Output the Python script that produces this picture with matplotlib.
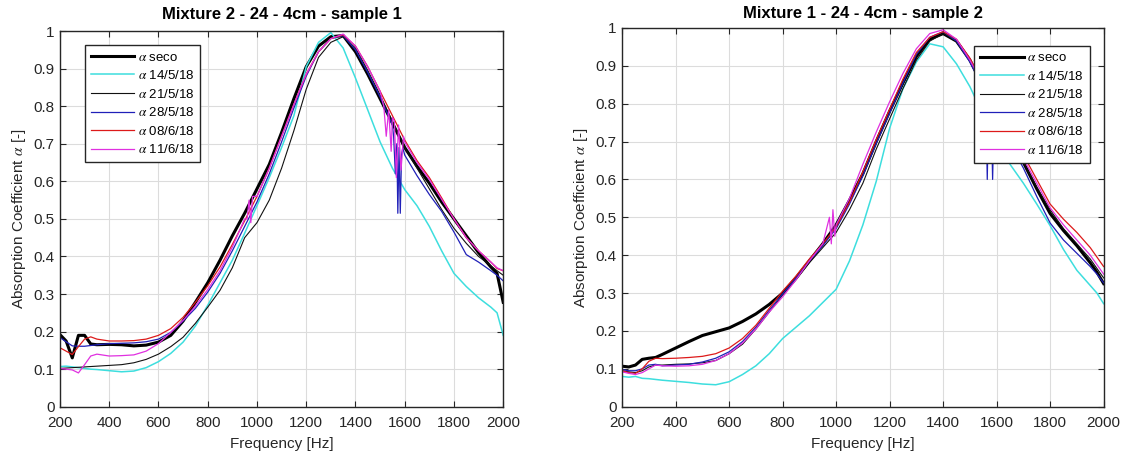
import matplotlib.pyplot as plt
import numpy as np

plt.rcParams['font.family'] = ['Liberation Sans', 'DejaVu Sans']
plt.rcParams['mathtext.fontset'] = 'stix'

# frequency grid [Hz] shared by all curves
freq = [200, 225, 250, 275, 300, 325, 350, 400, 450, 500, 550, 600, 650, 700, 750,
        800, 850, 900, 950, 1000, 1050, 1100, 1150, 1200, 1250, 1300, 1350, 1400,
        1450, 1500, 1550, 1600, 1650, 1700, 1750, 1800, 1850, 1900, 1950, 1975, 2000]

names = [r'$\alpha$ seco', r'$\alpha$ 14/5/18', r'$\alpha$ 21/5/18',
         r'$\alpha$ 28/5/18', r'$\alpha$ 08/6/18', r'$\alpha$ 11/6/18']
colors = ['#000000', '#3ddede', '#111111', '#2020b8', '#dd1a1a', '#e030e0']
widths = [2.2, 1.1, 0.8, 0.9, 0.9, 0.9]

titles = ['Mixture 2 - 24 - 4cm - sample 1', 'Mixture 1 - 24 - 4cm - sample 2']
xticks = [200, 400, 600, 800, 1000, 1200, 1400, 1600, 1800, 2000]
yticks = [0, 0.1, 0.2, 0.3, 0.4, 0.5, 0.6, 0.7, 0.8, 0.9, 1]
ytick_labels = ['0', '0.1', '0.2', '0.3', '0.4', '0.5', '0.6', '0.7', '0.8', '0.9', '1']

# ---- left panel: Mixture 2, sample 1
l_seco = [0.192, 0.175, 0.130, 0.190, 0.190, 0.167, 0.165, 0.166, 0.165, 0.162, 0.164,
          0.172, 0.190, 0.228, 0.278, 0.330, 0.390, 0.455, 0.515, 0.580, 0.645, 0.730,
          0.820, 0.905, 0.960, 0.985, 0.988, 0.945, 0.885, 0.820, 0.755, 0.690, 0.640,
          0.595, 0.545, 0.500, 0.455, 0.410, 0.372, 0.355, 0.278]
l_1405 = [0.107, 0.108, 0.106, 0.104, 0.102, 0.100, 0.099, 0.096, 0.093, 0.095, 0.104,
          0.120, 0.142, 0.172, 0.215, 0.270, 0.330, 0.390, 0.462, 0.535, 0.610, 0.690,
          0.775, 0.905, 0.970, 0.996, 0.955, 0.875, 0.790, 0.705, 0.635, 0.578, 0.535,
          0.480, 0.415, 0.355, 0.320, 0.290, 0.265, 0.250, 0.190]
l_2105 = [0.102, 0.103, 0.104, 0.105, 0.106, 0.107, 0.108, 0.110, 0.112, 0.117, 0.126,
          0.140, 0.160, 0.185, 0.222, 0.265, 0.310, 0.370, 0.450, 0.490, 0.550, 0.635,
          0.735, 0.845, 0.930, 0.970, 0.985, 0.955, 0.895, 0.830, 0.760, 0.690, 0.635,
          0.580, 0.525, 0.475, 0.435, 0.400, 0.375, 0.362, 0.350]
l_2805 = [0.184, 0.173, 0.162, 0.161, 0.161, 0.163, 0.165, 0.168, 0.169, 0.170, 0.173,
          0.180, 0.198, 0.228, 0.262, 0.305, 0.355, 0.415, 0.480, 0.545, 0.620, 0.705,
          0.795, 0.880, 0.945, 0.980, 0.988, 0.950, 0.890, 0.825, 0.750, 0.670, 0.615,
          0.565, 0.520, 0.465, 0.405, 0.385, 0.362, 0.350, 0.335]
l_0806 = [0.157, 0.148, 0.139, 0.160, 0.180, 0.186, 0.180, 0.175, 0.175, 0.176, 0.180,
          0.190, 0.208, 0.238, 0.278, 0.322, 0.372, 0.432, 0.495, 0.560, 0.635, 0.720,
          0.805, 0.885, 0.945, 0.980, 0.990, 0.960, 0.905, 0.840, 0.775, 0.710, 0.655,
          0.610, 0.556, 0.500, 0.450, 0.415, 0.385, 0.368, 0.362]
l_1106 = [0.102, 0.100, 0.098, 0.090, 0.112, 0.135, 0.140, 0.135, 0.136, 0.138, 0.148,
          0.168, 0.198, 0.230, 0.268, 0.312, 0.362, 0.425, 0.500, 0.560, 0.635, 0.720,
          0.805, 0.885, 0.945, 0.980, 0.992, 0.960, 0.905, 0.840, 0.770, 0.705, 0.650,
          0.605, 0.552, 0.500, 0.450, 0.415, 0.385, 0.370, 0.362]
# noisy dips seen around 1550-1600 Hz and 950-1000 Hz
l_2805_spk_f = [1555, 1562, 1568, 1572, 1577, 1582, 1587, 1592]
l_2805_spk_v = [0.72, 0.62, 0.70, 0.515, 0.69, 0.515, 0.67, 0.69]
l_1106_spk_f = [1515, 1525, 1535, 1545, 1558, 1566, 1575, 1585, 1595]
l_1106_spk_v = [0.80, 0.72, 0.79, 0.68, 0.76, 0.61, 0.75, 0.63, 0.72]
l_1106_spk2_f = [960, 968, 975, 982]
l_1106_spk2_v = [0.50, 0.55, 0.49, 0.56]

# ---- right panel: Mixture 1, sample 2
r_seco = [0.107, 0.105, 0.110, 0.125, 0.128, 0.130, 0.138, 0.155, 0.172, 0.188, 0.198,
          0.208, 0.225, 0.245, 0.270, 0.300, 0.340, 0.385, 0.430, 0.480, 0.545, 0.615,
          0.700, 0.780, 0.855, 0.925, 0.970, 0.985, 0.965, 0.915, 0.845, 0.770, 0.700,
          0.645, 0.575, 0.510, 0.465, 0.425, 0.380, 0.355, 0.325]
r_1405 = [0.080, 0.078, 0.080, 0.075, 0.074, 0.072, 0.070, 0.067, 0.064, 0.060, 0.058,
          0.066, 0.085, 0.108, 0.140, 0.180, 0.210, 0.240, 0.275, 0.310, 0.385, 0.480,
          0.595, 0.735, 0.840, 0.910, 0.958, 0.950, 0.905, 0.845, 0.770, 0.695, 0.640,
          0.590, 0.535, 0.478, 0.415, 0.360, 0.320, 0.300, 0.272]
r_2105 = [0.095, 0.092, 0.090, 0.095, 0.105, 0.110, 0.110, 0.112, 0.113, 0.116, 0.122,
          0.140, 0.165, 0.205, 0.250, 0.295, 0.335, 0.380, 0.420, 0.460, 0.520, 0.590,
          0.680, 0.760, 0.840, 0.915, 0.965, 0.985, 0.965, 0.915, 0.850, 0.775, 0.705,
          0.645, 0.580, 0.520, 0.470, 0.430, 0.390, 0.365, 0.340]
r_2805 = [0.098, 0.095, 0.095, 0.100, 0.110, 0.112, 0.108, 0.110, 0.112, 0.118, 0.128,
          0.145, 0.172, 0.210, 0.255, 0.298, 0.340, 0.385, 0.425, 0.470, 0.535, 0.610,
          0.695, 0.775, 0.855, 0.930, 0.975, 0.990, 0.965, 0.910, 0.840, 0.765, 0.695,
          0.630, 0.555, 0.485, 0.440, 0.405, 0.370, 0.350, 0.327]
r_0806 = [0.095, 0.090, 0.088, 0.100, 0.120, 0.128, 0.127, 0.128, 0.130, 0.133, 0.140,
          0.155, 0.180, 0.215, 0.260, 0.305, 0.345, 0.390, 0.430, 0.475, 0.540, 0.620,
          0.705, 0.785, 0.865, 0.935, 0.975, 0.990, 0.970, 0.920, 0.855, 0.785, 0.720,
          0.665, 0.600, 0.535, 0.495, 0.460, 0.420, 0.395, 0.370]
r_1106 = [0.092, 0.088, 0.085, 0.090, 0.100, 0.110, 0.108, 0.107, 0.108, 0.112, 0.122,
          0.140, 0.168, 0.205, 0.250, 0.290, 0.335, 0.385, 0.430, 0.480, 0.550, 0.640,
          0.725, 0.805, 0.880, 0.945, 0.985, 0.995, 0.970, 0.915, 0.850, 0.780, 0.710,
          0.655, 0.590, 0.525, 0.480, 0.440, 0.400, 0.375, 0.350]
r_2805_spk_f = [1560, 1565, 1570, 1580, 1585, 1590]
r_2805_spk_v = [0.81, 0.60, 0.80, 0.78, 0.60, 0.77]
r_1106_spk_f = [975, 982, 988, 995]
r_1106_spk_v = [0.50, 0.43, 0.52, 0.45]


def merge(f, v, sf, sv):
    ff = np.concatenate([f, sf])
    vv = np.concatenate([v, sv])
    idx = np.argsort(ff, kind='stable')
    return ff[idx], vv[idx]


def panel(ax, curves, title, leg_loc, leg_anchor, title_pad):
    for name, (f, v), c, lw in zip(names, curves, colors, widths):
        ax.plot(f, v, color=c, lw=lw, label=name)
    ax.set_xlim(200, 2000)
    ax.set_ylim(0, 1)
    ax.set_xticks(xticks)
    ax.set_yticks(yticks)
    ax.set_yticklabels(ytick_labels)
    ax.grid(True, color='#dcdcdc', lw=0.8)
    ax.set_axisbelow(True)
    ax.tick_params(direction='in', top=True, right=True, length=4,
                   labelsize=11, colors='#262626')
    ax.tick_params(axis='x', pad=7)
    ax.tick_params(axis='y', pad=4)
    for s in ax.spines.values():
        s.set_color('#262626')
        s.set_linewidth(1.0)
    ax.set_title(title, fontsize=12, fontweight='bold', color='black', pad=title_pad)
    ax.set_xlabel('Frequency [Hz]', fontsize=11, color='#262626', labelpad=5)
    ax.set_ylabel(r'Absorption Coefficient $\alpha$ [-]', fontsize=11,
                  color='#262626', labelpad=4)
    leg = ax.legend(loc=leg_loc, bbox_to_anchor=leg_anchor, borderaxespad=0,
                    fontsize=9.5, handlelength=3.3, handletextpad=0.25,
                    labelspacing=0.42, borderpad=0.45, fancybox=False,
                    framealpha=1, edgecolor='#262626')
    leg.get_frame().set_linewidth(1.0)


fig = plt.figure(figsize=(11.25, 4.57), dpi=100)
ax1 = fig.add_axes([0.0533, 0.11, 0.394, 0.822])
ax2 = fig.add_axes([0.553, 0.11, 0.428, 0.829])

f = np.array(freq, dtype=float)
left = [
    (f, np.array(l_seco)),
    (f, np.array(l_1405)),
    (f, np.array(l_2105)),
    merge(f, np.array(l_2805), l_2805_spk_f, l_2805_spk_v),
    (f, np.array(l_0806)),
    merge(*merge(f, np.array(l_1106), l_1106_spk_f, l_1106_spk_v), l_1106_spk2_f, l_1106_spk2_v),
]
right = [
    (f, np.array(r_seco)),
    (f, np.array(r_1405)),
    (f, np.array(r_2105)),
    merge(f, np.array(r_2805), r_2805_spk_f, r_2805_spk_v),
    (f, np.array(r_0806)),
    merge(f, np.array(r_1106), r_1106_spk_f, r_1106_spk_v),
]

panel(ax1, left, titles[0], 'upper left', (0.056, 0.962), 9)
panel(ax2, right, titles[1], 'upper right', (0.971, 0.952), 7)

fig.savefig('out.png', dpi=100, facecolor='white')
